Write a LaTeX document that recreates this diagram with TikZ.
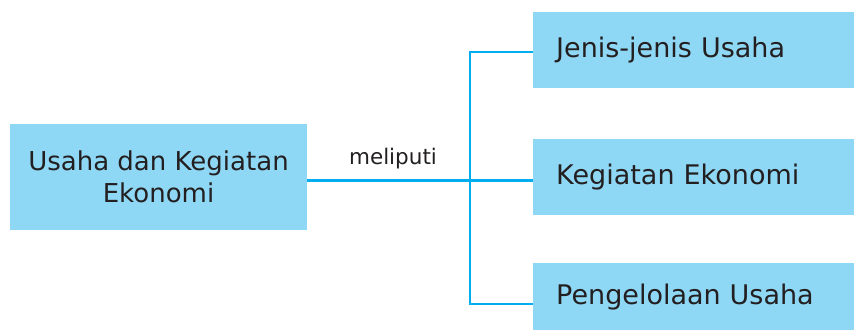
\documentclass[tikz,border=0pt]{standalone}
\usepackage{fontspec}
\setmainfont{DejaVu Sans}
\definecolor{boxfill}{HTML}{8FD8F5}
\definecolor{linec}{HTML}{00AEEF}
\definecolor{txt}{HTML}{231F20}
\begin{document}
\begin{tikzpicture}[x=1pt,y=-1pt,
  box/.style={fill=boxfill,draw=none,inner sep=0pt,text=txt},
  rbox/.style={box,minimum width=321,anchor=north west,text width=275,align=left,font=\fontsize{27}{32}\selectfont},
  conn/.style={draw=linec,line width=2.5pt}]
\useasboundingbox (0,0) rectangle (854,330);
\node[box,minimum width=297,minimum height=106,align=center,font=\fontsize{26}{32}\selectfont] (main) at (158.5,177) {Usaha dan Kegiatan\\Ekonomi};
\node[rbox,minimum height=76] (b1) at (533,12) {Jenis-jenis Usaha};
\node[rbox,minimum height=76] (b2) at (533,138.5) {Kegiatan Ekonomi};
\node[rbox,minimum height=67] (b3) at (533,263) {Pengelolaan Usaha};
\coordinate (j) at (470,180.5);
\draw[conn] (main.east |- j) -- (b2.west |- j);
\draw[conn] (b1.west |- 0,52) -| (j) |- (b3.west |- 0,304);
\node[anchor=base,inner sep=0pt,text=txt,font=\fontsize{21.5}{24}\selectfont] (lbl) at (393,164.3) {meliputi};
\end{tikzpicture}
\end{document}
